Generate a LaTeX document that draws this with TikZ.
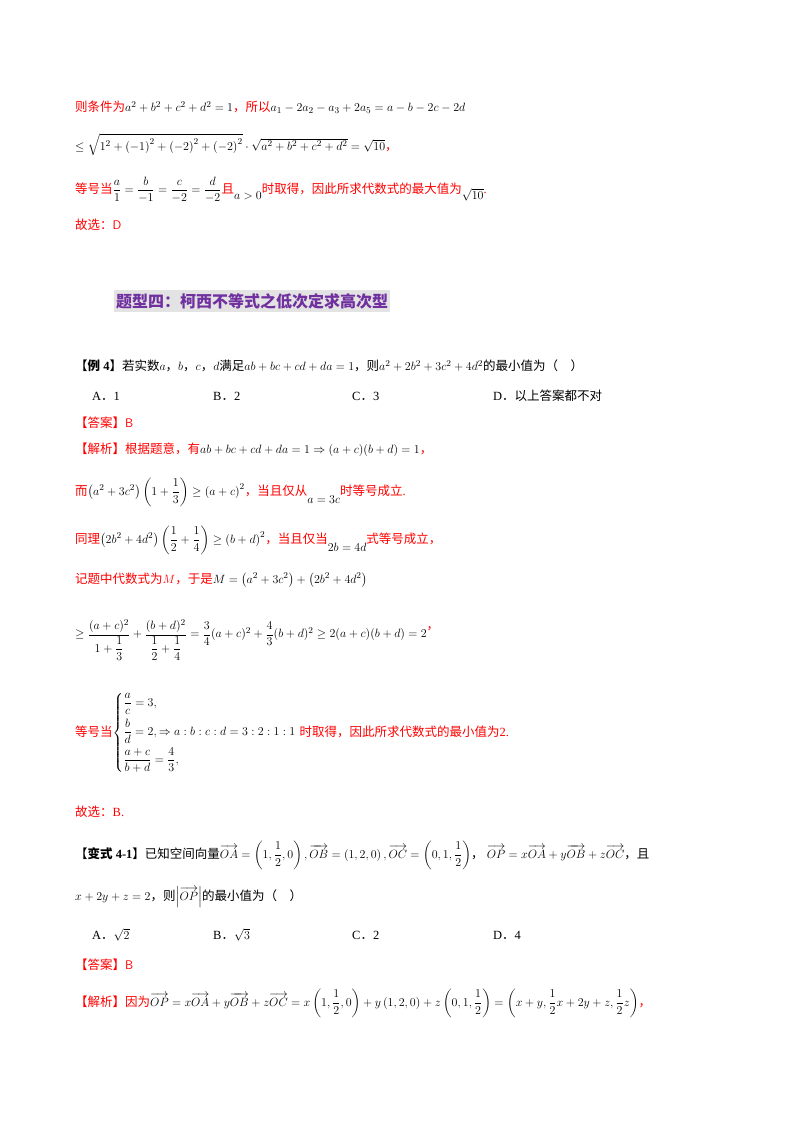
\documentclass[tikz,border=0pt]{standalone}
\usepackage{amsmath}
\usepackage{fontspec}
\setmainfont{Liberation Serif}
\newfontfamily\cjk{Noto Sans CJK SC}
\newcommand\zh[1]{{\cjk #1}}
\newcommand\rz[1]{\textcolor{red}{\cjk #1}}
\definecolor{tpurple}{HTML}{7030A0}
\begin{document}
\begin{tikzpicture}[x=1pt,y=-1pt,
  ln/.style={anchor=west,inner sep=0pt,font=\fontsize{12.5}{15}\selectfont}]
\useasboundingbox (0,0) rectangle (800,1132);
\fill[white] (0,0) rectangle (800,1132);
\node[ln] (l1) at (75,107) {\rz{则条件为}$a^2+b^2+c^2+d^2=1$\rz{，所以}$a_1-2a_2-a_3+2a_5=a-b-2c-2d$};
\node[ln] (l2) at (75,145) {$\le\sqrt{1^2+\left(-1\right)^2+\left(-2\right)^2+\left(-2\right)^2}\cdot\sqrt{a^2+b^2+c^2+d^2}=\sqrt{10}$\rz{，}};
\node[ln] (l3) at (75,190) {\rz{等号当}$\dfrac{a}{1}=\dfrac{b}{-1}=\dfrac{c}{-2}=\dfrac{d}{-2}$\rz{且}\raisebox{-6pt}{$a>0$}\rz{时取得，因此所求代数式的最大值为}\raisebox{-6pt}{$\sqrt{10}$}\textcolor{red}{.}};
\node[ln] (l4) at (75,225) {\rz{故选：}\textcolor{red}{\sffamily D}};
\node[anchor=west,inner xsep=2pt,inner ysep=3pt,fill=gray!22,text=tpurple,font=\fontsize{16}{18}\selectfont\cjk\bfseries] (title) at (114,301) {题型四：柯西不等式之低次定求高次型};
\node[ln] (q4) at (75,366) {\zh{【\bfseries 例}\textbf{ 4}\zh{】若实数}$a$\zh{，}$b$\zh{，}$c$\zh{，}$d$\zh{满足}$ab+bc+cd+da=1$\zh{，则}$a^2+2b^2+3c^2+4d^2$\zh{的最小值为（\quad）}};
\node[ln] (oA) at (92,396) {A\zh{．}1};
\node[ln] (oB) at (213,396) {B\zh{．}2};
\node[ln] (oC) at (352,396) {C\zh{．}3};
\node[ln] (oD) at (493,396) {D\zh{．以上答案都不对}};
\node[ln] (ans) at (75,423) {\rz{【答案】}\textcolor{red}{\sffamily B}};
\node[ln] (s1) at (75,450) {\rz{【解析】根据题意，有}$ab+bc+cd+da=1\Rightarrow(a+c)(b+d)=1$\rz{，}};
\node[ln] (s2) at (75,492) {\rz{而}$\left(a^2+3c^2\right)\left(1+\dfrac13\right)\ge\left(a+c\right)^2$\rz{，当且仅从}\raisebox{-8pt}{$a=3c$}\rz{时等号成立}\textcolor{red}{.}};
\node[ln] (s3) at (75,540) {\rz{同理}$\left(2b^2+4d^2\right)\left(\dfrac12+\dfrac14\right)\ge\left(b+d\right)^2$\rz{，当且仅当}\raisebox{-8pt}{$2b=4d$}\rz{式等号成立，}};
\node[ln] (s4) at (75,580) {\rz{记题中代数式为}\textcolor{red}{$M$}\rz{，于是}$M=\left(a^2+3c^2\right)+\left(2b^2+4d^2\right)$};
\node[ln] (s5) at (75,640) {$\ge\dfrac{(a+c)^2}{1+\dfrac13}+\dfrac{(b+d)^2}{\dfrac12+\dfrac14}=\dfrac34(a+c)^2+\dfrac43(b+d)^2\ge2(a+c)(b+d)=2$\raisebox{8pt}{\rz{，}}};
\node[ln] (s6) at (75,733) {\rz{等号当}$\left\{\begin{array}{@{}l}\dfrac{a}{c}=3,\\[8pt]\dfrac{b}{d}=2,\Rightarrow a:b:c:d=3:2:1:1\\[8pt]\dfrac{a+c}{b+d}=\dfrac43,\end{array}\right.$\hspace{-2pt}\rz{时取得，因此所求代数式的最小值为}\textcolor{red}{2.}};
\node[ln] (s7) at (75,812) {\rz{故选：}\textcolor{red}{B.}};
\node[ln] (q5) at (75,855) {\zh{【\bfseries 变式}\textbf{ 4-1}\zh{】已知空间向量}$\overrightarrow{OA}=\left(1,\dfrac12,0\right),\overrightarrow{OB}=\left(1,2,0\right),\overrightarrow{OC}=\left(0,1,\dfrac12\right)$\zh{，}\ $\overrightarrow{OP}=x\overrightarrow{OA}+y\overrightarrow{OB}+z\overrightarrow{OC}$\zh{，且}};
\node[ln] (q5b) at (75,897) {$x+2y+z=2$\zh{，则}$\left|\overrightarrow{OP}\right|$\zh{的最小值为（\quad）}};
\node[ln] (pA) at (92,935) {A\zh{．}$\sqrt2$};
\node[ln] (pB) at (213,935) {B\zh{．}$\sqrt3$};
\node[ln] (pC) at (352,935) {C\zh{．}2};
\node[ln] (pD) at (493,935) {D\zh{．}4};
\node[ln] (ans2) at (75,965) {\rz{【答案】}\textcolor{red}{\sffamily B}};
\node[ln] (t1) at (75,1003) {\rz{【解析】因为}$\overrightarrow{OP}=x\overrightarrow{OA}+y\overrightarrow{OB}+z\overrightarrow{OC}=x\left(1,\dfrac12,0\right)+y\left(1,2,0\right)+z\left(0,1,\dfrac12\right)=\left(x+y,\dfrac12x+2y+z,\dfrac12z\right)$\rz{，}};
\end{tikzpicture}
\end{document}
